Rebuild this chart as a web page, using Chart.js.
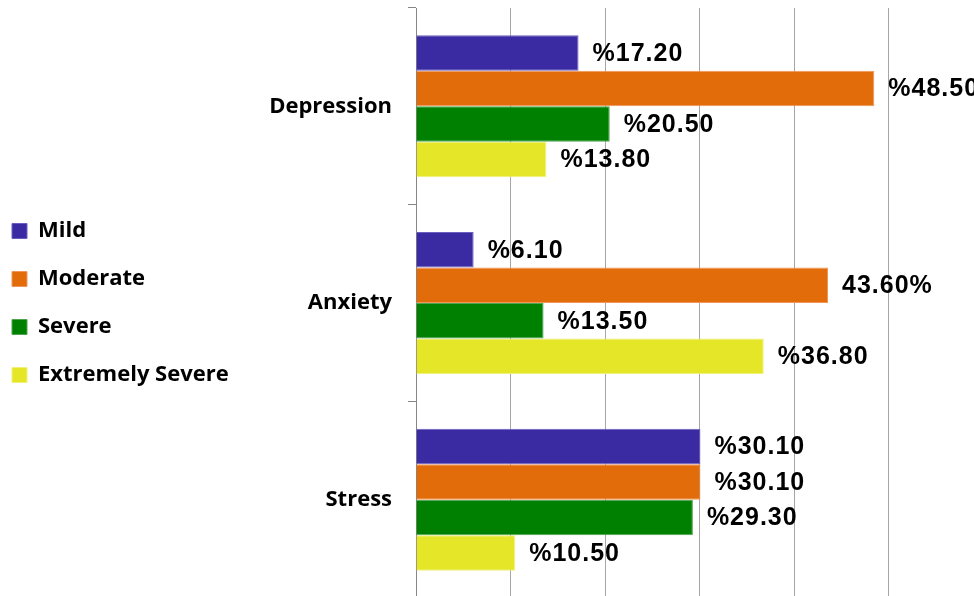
<!DOCTYPE html>
<html>
<head>
<meta charset="utf-8">
<title>DASS levels</title>
<script src="https://cdn.jsdelivr.net/npm/chart.js@4.4.1/dist/chart.umd.min.js"></script>
<style>
  html, body { margin: 0; padding: 0; background: #fff; overflow: hidden; }
  #wrap { width: 974px; height: 596px; overflow: hidden; }
  #dass-chart { display: block; margin-left: -14px; }
</style>
</head>
<body>
<div id="wrap"><canvas id="dass-chart" width="1004" height="600"></canvas></div>
<script>
const categories = ['Depression', 'Anxiety', 'Stress'];
const seriesNames = ['Mild', 'Moderate', 'Severe', 'Extremely Severe'];

const mild = [17.2, 6.1, 30.1];
const moderate = [48.5, 43.6, 30.1];
const severe = [20.5, 13.5, 29.3];
const extremelySevere = [13.8, 36.8, 10.5];

// value labels exactly as printed on the chart
const mildLabels = ['%17.20', '%6.10', '%30.10'];
const moderateLabels = ['%48.50', '43.60%', '%30.10'];
const severeLabels = ['%20.50', '%13.50', '%29.30'];
const extremelySevereLabels = ['%13.80', '%36.80', '%10.50'];

const xTicks = [0, 10, 20, 30, 40, 50, 60];

document.addEventListener('DOMContentLoaded', function() {
  const ctx = document.getElementById('dass-chart').getContext('2d');
  const chartLeft = 430; // canvas is shifted 14px left inside the page

  const valueLabels = {
    id: 'valueLabels',
    afterDatasetsDraw(chart) {
      const c = chart.ctx;
      c.save();
      c.font = 'bold 25px "Liberation Sans", Arial, sans-serif';
      c.fillStyle = '#000';
      c.textAlign = 'left';
      c.textBaseline = 'middle';
      if ('letterSpacing' in c) c.letterSpacing = '1px';
      chart.data.datasets.forEach((ds, i) => {
        chart.getDatasetMeta(i).data.forEach((bar, j) => {
          c.fillText(ds.valueLabels[j], bar.x + 14, bar.y + 1);
        });
      });
      c.restore();
    }
  };

  new Chart(ctx, {
    type: 'bar',
    data: {
      labels: categories,
      datasets: [
        { label: seriesNames[0], data: mild, valueLabels: mildLabels,
          backgroundColor: '#3a2ba2', borderColor: '#6a5fc0', borderWidth: 1 },
        { label: seriesNames[1], data: moderate, valueLabels: moderateLabels,
          backgroundColor: '#e36c0a', borderColor: '#f0965a', borderWidth: 1 },
        { label: seriesNames[2], data: severe, valueLabels: severeLabels,
          backgroundColor: '#008000', borderColor: '#4da64d', borderWidth: 1 },
        { label: seriesNames[3], data: extremelySevere, valueLabels: extremelySevereLabels,
          backgroundColor: '#e6e628', borderColor: '#f0f07a', borderWidth: 1 }
      ]
    },
    options: {
      indexAxis: 'y',
      responsive: false,
      animation: false,
      layout: { padding: { top: 8, bottom: 2, left: 0, right: 7 } },
      datasets: { bar: { categoryPercentage: 0.722, barPercentage: 1 } },
      plugins: {
        tooltip: { enabled: false },
        legend: {
          position: 'left',
          align: 'center',
          labels: {
            boxWidth: 15,
            boxHeight: 15,
            padding: 26,
            color: '#000',
            font: { family: '"Open Sans", sans-serif', size: 22, weight: 'bold' }
          }
        }
      },
      scales: {
        x: {
          min: xTicks[0],
          max: xTicks[xTicks.length - 1],
          afterBuildTicks: scale => { scale.ticks = xTicks.map(v => ({ value: v })); },
          afterFit: scale => { scale.height = 0; scale.paddingLeft = 0; scale.paddingRight = 0; },
          ticks: { display: false },
          grid: { color: '#a6a6a6', lineWidth: 1, drawTicks: false },
          border: { display: false }
        },
        y: {
          afterFit: scale => {
            scale.width = chartLeft - scale.chart.legend.width;
            scale.paddingTop = 0;
            scale.paddingBottom = 0;
          },
          ticks: {
            color: '#000',
            padding: 16,
            font: { family: '"Open Sans", sans-serif', size: 22, weight: 'bold' }
          },
          grid: { drawOnChartArea: false, drawTicks: true, tickLength: 8, color: '#868686' },
          border: { color: '#868686', width: 1 }
        }
      }
    },
    plugins: [valueLabels]
  });
});
</script>
</body>
</html>
